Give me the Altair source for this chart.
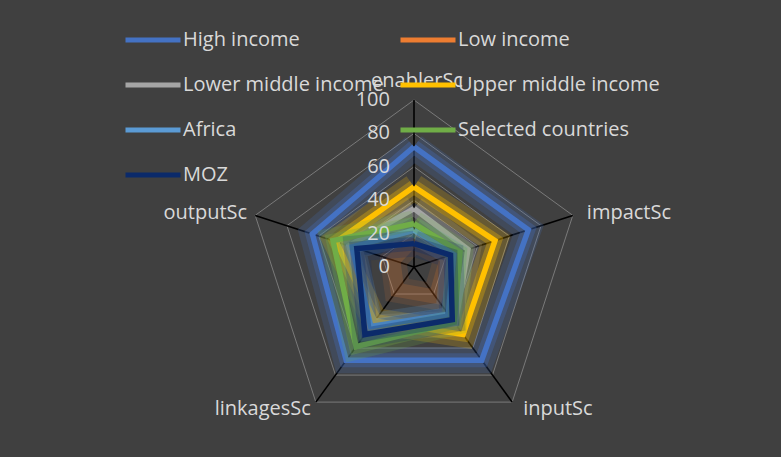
import math
import altair as alt
import pandas as pd

# ---------------- data ----------------
axis_names = ["enablerSc", "impactSc", "inputSc", "linkagesSc", "outputSc"]
series_names = ["High income", "Low income", "Lower middle income",
                "Upper middle income", "Africa", "Selected countries", "MOZ"]
series_colors = ["#4472C4", "#ED7D31", "#A5A5A5", "#FFC000", "#5B9BD5", "#70AD47", "#0B2A6A"]

high_income = [72, 72, 69, 69, 64]
low_income = [17, 21, 22, 17, 13]
lower_middle_income = [35, 34, 42, 45, 41]
upper_middle_income = [48, 51, 50, 40, 49]
africa = [22, 25, 35, 44, 39]
selected_countries = [26, 29, 41, 59, 51]
moz = [14, 23, 39, 50, 36]
tick_values = [0, 20, 40, 60, 80, 100]

series_values = [high_income, low_income, lower_middle_income, upper_middle_income,
                 africa, selected_countries, moz]

# ---------------- layout ----------------
W, H = 781, 457
CX, CY = 414, 267        # pixel centre of the radar
R = 167                  # pixel radius of value 100
K = R / 100.0
FONT = "Open Sans"
TXT = "#D9D9D9"
N = len(axis_names)


def ang(i):
    return math.pi / 2 - i * 2 * math.pi / N


def pos(v, i):
    return v * math.cos(ang(i)), v * math.sin(ang(i))


rows = []
for s, vals in zip(series_names, series_values):
    for j in range(N + 1):
        i = j % N
        x, y = pos(vals[i], i)
        rows.append({"series": s, "axis": axis_names[i], "value": vals[i], "x": x, "y": y, "o": j})
df = pd.DataFrame(rows)

grid_rows = []
for lv in tick_values[1:]:
    for j in range(N + 1):
        i = j % N
        x, y = pos(lv, i)
        grid_rows.append({"level": lv, "x": x, "y": y, "o": j})
grid_df = pd.DataFrame(grid_rows)

spoke_df = pd.DataFrame([{"axis": a, "x0": 0.0, "y0": 0.0,
                          "x": pos(100, i)[0], "y": pos(100, i)[1]}
                         for i, a in enumerate(axis_names)])
tick_df = pd.DataFrame({"label": [str(t) for t in tick_values],
                        "x": [0.0] * len(tick_values), "y": tick_values})

xs = alt.Scale(domain=[-CX / K, (W - CX) / K], nice=False, zero=False)
ys = alt.Scale(domain=[-(H - CY) / K, CY / K], nice=False, zero=False)
X = alt.X("x:Q", scale=xs, axis=None)
Y = alt.Y("y:Q", scale=ys, axis=None)

layers = []

grid = alt.Chart(grid_df).mark_line(color="#7A7A7A", strokeWidth=1).encode(
    x=X, y=Y, detail="level:N", order="o:Q")
layers.append(grid)

spokes = alt.Chart(spoke_df).mark_rule(color="#000000", strokeWidth=1.6).encode(
    x=alt.X("x0:Q", scale=xs, axis=None), y=alt.Y("y0:Q", scale=ys, axis=None),
    x2="x:Q", y2="y:Q")
layers.append(spokes)

color_enc = alt.Color(
    "series:N",
    scale=alt.Scale(domain=series_names, range=series_colors),
    legend=alt.Legend(
        title=None, orient="none", legendX=123, legendY=10, columns=2,
        direction="horizontal",
        symbolType="stroke", symbolSize=55 * 55, symbolStrokeWidth=5,
        labelFont=FONT, labelFontSize=20, labelColor=TXT, labelOffset=0,
        labelLimit=400, columnPadding=6, rowPadding=5,
    ),
)

for s, col in zip(series_names, series_colors):
    base = alt.Chart(df).transform_filter(alt.datum.series == s)
    glow_scale = 0.6 if s == "Low income" else 1.0
    layers.append(base.mark_line(strokeWidth=26, opacity=0.2 * glow_scale, strokeJoin="miter").encode(
        x=X, y=Y, order="o:Q", stroke=alt.value(col)))
    layers.append(base.mark_line(strokeWidth=14, opacity=0.3 * glow_scale, strokeJoin="miter").encode(
        x=X, y=Y, order="o:Q", stroke=alt.value(col)))
    line_w = 0.01 if s == "Low income" else 5.5
    layers.append(base.mark_line(strokeWidth=line_w, strokeJoin="miter").encode(
        x=X, y=Y, order="o:Q", color=color_enc))

ticks = alt.Chart(tick_df).mark_text(
    align="right", baseline="middle", dx=-24, font=FONT, fontSize=20, color=TXT
).encode(x=X, y=Y, text="label:N")
layers.append(ticks)

label_style = {
    "enablerSc": dict(align="center", dx=3, dy=-19),
    "impactSc": dict(align="left", dx=14, dy=-2),
    "inputSc": dict(align="left", dx=11, dy=7),
    "linkagesSc": dict(align="right", dx=-5, dy=7),
    "outputSc": dict(align="right", dx=-8, dy=-2),
}
for a in axis_names:
    st = label_style[a]
    layers.append(
        alt.Chart(spoke_df).transform_filter(alt.datum.axis == a).mark_text(
            baseline="middle", font=FONT, fontSize=20, color=TXT, **st
        ).encode(x=X, y=Y, text="axis:N"))

chart = alt.layer(*layers).properties(
    width=W, height=H, background="#404040", padding=0,
    autosize=alt.AutoSizeParams(type="none"),
).configure_view(stroke=None)

chart.save("out.html", embed_options={"renderer": "svg", "actions": False})
